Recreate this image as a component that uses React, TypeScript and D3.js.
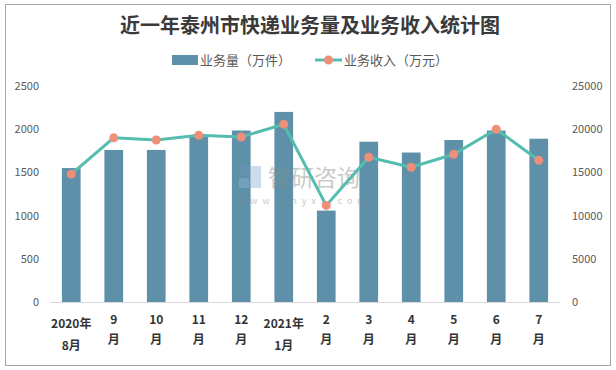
import React from "react";
import * as d3 from "d3";

const categories: string[][] = [
  ["2020年", "8月"], ["9", "月"], ["10", "月"], ["11", "月"], ["12", "月"],
  ["2021年", "1月"], ["2", "月"], ["3", "月"], ["4", "月"], ["5", "月"], ["6", "月"], ["7", "月"],
];
const volume = [1550, 1760, 1760, 1910, 1985, 2200, 1058, 1855, 1730, 1875, 1985, 1890];
const revenue = [14800, 19000, 18750, 19300, 19100, 20580, 11180, 16750, 15600, 17100, 20000, 16400];
const leftTicks = [0, 500, 1000, 1500, 2000, 2500];
const rightTicks = [0, 5000, 10000, 15000, 20000, 25000];
const title = "近一年泰州市快递业务量及业务收入统计图";
const legendBar = "业务量（万件）";
const legendLine = "业务收入（万元）";

const W = 616, H = 370;
const BAR = "#5e91a9";
const LINE = "#55bcb0";
const DOT = "#ee9079";
const FONT = "'Noto Sans CJK SC', 'Noto Sans', sans-serif";

export default function App() {
  const x = d3.scaleBand<number>().domain(d3.range(12)).range([50, 560]).padding(0);
  const yL = d3.scaleLinear().domain([0, 2500]).range([302, 86]);
  const yR = d3.scaleLinear().domain([0, 25000]).range([302, 86]);
  const bw = x.bandwidth() * 0.44;
  const cx = (i: number) => (x(i) as number) + x.bandwidth() / 2;
  const line = d3.line<number>().x((_, i) => cx(i)).y((d) => yR(d));

  return (
    <svg width={W} height={H} style={{ position: "absolute", left: 0, top: 0, background: "#fff" }} fontFamily={FONT}>
      <rect x={5.5} y={4.5} width={605} height={361} fill="#fff" stroke="#a6a6a6" strokeWidth={1} />
      <text x={310} y={33} textAnchor="middle" fontSize={20} fontWeight="bold" fill="#3a3a3a">{title}</text>
      {/* legend */}
      <rect x={172} y={55} width={26} height={10} fill={BAR} />
      <text x={200} y={65} fontSize={13} fill="#595959">{legendBar}</text>
      <line x1={315} x2={342} y1={60} y2={60} stroke={LINE} strokeWidth={3} />
      <circle cx={328.5} cy={60} r={4.5} fill={DOT} />
      <text x={344} y={65} fontSize={13} fill="#595959">{legendLine}</text>
      {/* axis line */}
      <line x1={50} x2={560} y1={302.5} y2={302.5} stroke="#d9d9d9" strokeWidth={1} />
      {leftTicks.map((t) => (
        <text key={"l" + t} x={39} y={yL(t) + 4} textAnchor="end" fontSize={11} fill="#595959">{t}</text>
      ))}
      {rightTicks.map((t) => (
        <text key={"r" + t} x={572} y={yR(t) + 4} textAnchor="start" fontSize={11} fill="#595959">{t}</text>
      ))}
      {volume.map((v, i) => (
        <rect key={"b" + i} x={cx(i) - bw / 2} y={yL(v)} width={bw} height={yL(0) - yL(v)} fill={BAR} />
      ))}
      {/* watermark */}
      <g opacity={0.45}>
        <rect x={239} y={166} width={10} height={10} fill="#6f8fb8" />
        <rect x={251} y={166} width={10} height={22} fill="#8fb3d9" />
        <rect x={239} y={178} width={10} height={10} fill="#8fb3d9" />
        <text x={268} y={186} fontSize={23} fill="#8a8a8a">智研咨询</text>
        <text x={238} y={204} fontSize={9} fill="#8a8a8a" letterSpacing={5}>www.chyxx.com</text>
      </g>
      <path d={line(revenue) || ""} fill="none" stroke={LINE} strokeWidth={3} />
      {revenue.map((v, i) => (
        <circle key={"p" + i} cx={cx(i)} cy={yR(v)} r={4.5} fill={DOT} />
      ))}
      {categories.map((c, i) => {
        const twoLong = c[0].length > 2;
        return (
          <g key={"c" + i} fontSize={12} fontWeight="bold" fill="#333" textAnchor="middle">
            <text x={cx(i)} y={twoLong ? 328 : 324}>{c[0]}</text>
            <text x={cx(i)} y={twoLong ? 350 : 344}>{c[1]}</text>
          </g>
        );
      })}
    </svg>
  );
}
